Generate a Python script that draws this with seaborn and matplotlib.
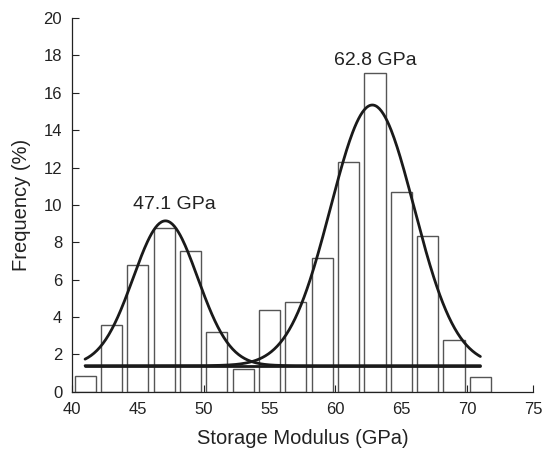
import numpy as np
import pandas as pd
import seaborn as sns
import matplotlib.pyplot as plt

# histogram bins (centres, GPa) and frequencies (%)
bin_centers = [41, 43, 45, 47, 49, 51, 53, 55, 57, 59, 61, 63, 65, 67, 69, 71]
frequency = [0.85, 3.6, 6.77, 8.75, 7.55, 3.18, 1.22, 4.38, 4.8, 7.15, 12.3, 17.05, 10.7, 8.33, 2.8, 0.82]

# two-peak gaussian fit: baseline, centres, amplitudes, widths
baseline = 1.4
peak_centers = [47.1, 62.8]
peak_heights = [7.75, 13.95]
peak_sigmas = [2.45, 3.17]
fit_range = [41, 71]
peak_labels = ['47.1 GPa', '62.8 GPa']
label_pos = [(47.75, 10.0), (63.05, 17.75)]

sns.set_style('ticks')
plt.rcParams['font.family'] = ['Liberation Sans', 'DejaVu Sans']

fig = plt.figure(figsize=(5.53, 4.53), dpi=100)
ax = fig.add_axes([0.130, 0.135, 0.834, 0.825])

df = pd.DataFrame({'modulus': bin_centers, 'freq': frequency})
sns.barplot(data=df, x='modulus', y='freq', native_scale=True, width=0.8,
            color='white', edgecolor='#555555', linewidth=1.0, ax=ax)

xs = np.linspace(fit_range[0], fit_range[1], 400)
for c, h, s in zip(peak_centers, peak_heights, peak_sigmas):
    ys = baseline + h * np.exp(-(xs - c) ** 2 / (2 * s ** 2))
    sns.lineplot(x=xs, y=ys, color='#1a1a1a', linewidth=2.0, ax=ax)
sns.lineplot(x=fit_range, y=[baseline, baseline], color='#1a1a1a', linewidth=2.0, ax=ax)

for txt, (tx, ty) in zip(peak_labels, label_pos):
    ax.text(tx, ty, txt, ha='center', va='center', fontsize=14, color='#222222')

ax.set_xlim(40, 75)
ax.set_ylim(0, 20)
ax.set_xticks(range(40, 76, 5))
ax.set_yticks(range(0, 21, 2))
ax.tick_params(direction='in', length=5, width=0.8, labelsize=12, colors='#222222')
ax.tick_params(axis='x', pad=7)
ax.tick_params(axis='y', pad=7)
sns.despine(ax=ax)
for sp in ['left', 'bottom']:
    ax.spines[sp].set_linewidth(0.9)
    ax.spines[sp].set_color('#222222')

ax.set_xlabel('Storage Modulus (GPa)', fontsize=14.5, color='#222222', labelpad=9)
ax.set_ylabel('Frequency (%)', fontsize=14.5, color='#222222', labelpad=9)

fig.savefig('out.png', dpi=100)
